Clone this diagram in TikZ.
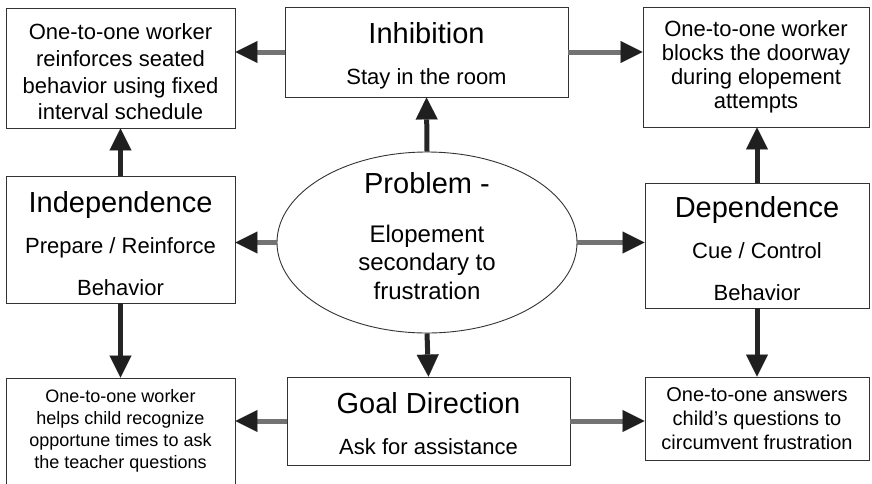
\documentclass[tikz,border=0pt]{standalone}
\usepackage{fontspec}
\setmainfont{Liberation Sans}
\usetikzlibrary{arrows.meta,shapes.geometric}

% type sizes used in the chart
\newcommand\ttlsize{\fontsize{29}{41.5}\selectfont}
\newcommand\subsize{\fontsize{22}{41.5}\selectfont}
% invisible strut that lowers the text block inside its box
\newcommand\topstrut[1]{\rule{0pt}{#1}}

\tikzset{
  box/.style={draw=black!80, line width=0.9pt, rectangle, inner sep=0pt, align=center},
  conn/.style={line width=5pt,
    -{Triangle[length=22pt,width=22pt,line width=0.1pt,color=black!88]}},
  hconn/.style={conn, draw=black!55},
  vconn/.style={conn, draw=black!85},
}

\begin{document}
\begin{tikzpicture}[x=1pt,y=-1pt]
\clip (0,0) rectangle (872,483);
\useasboundingbox (0,0) rectangle (872,483);

% central problem
\node[draw=black!80, line width=0.9pt, ellipse, inner sep=0pt,
      minimum width=300, minimum height=181] (prob) at (427,242.5) {};
\node[align=center, inner sep=0pt, font=\fontsize{24}{28.5}\selectfont] (probtext) at (427,236)
  {{\fontsize{29}{28.5}\selectfont Problem -}\\[20pt]Elopement\\secondary to\\frustration};

% the four strategy boxes
\node[box, minimum width=283, minimum height=90, font=\ttlsize] (inh) at (426.5,52)
  {\topstrut{29pt}Inhibition\\{\subsize Stay in the room}};
\node[box, minimum width=229, minimum height=127, font=\ttlsize] (ind) at (120.5,239.5)
  {\topstrut{29pt}Independence\\{\subsize Prepare / Reinforce}\\{\subsize Behavior}};
\node[box, minimum width=224, minimum height=125, font=\ttlsize] (dep) at (757,245.5)
  {\topstrut{27pt}Dependence\\{\subsize Cue / Control}\\{\subsize Behavior}};
\node[box, minimum width=283, minimum height=88, font=\ttlsize] (goal) at (428.5,421)
  {\topstrut{26pt}Goal Direction\\{\subsize Ask for assistance}};

% the four interventions
\node[box, minimum width=229, minimum height=120, font=\fontsize{22}{26.7}\selectfont] (tl) at (120.5,68)
  {\topstrut{24pt}One-to-one worker\\reinforces seated\\behavior using fixed\\interval schedule};
\node[box, minimum width=226, minimum height=120, font=\fontsize{22}{24}\selectfont] (tr) at (756,67)
  {One-to-one worker\\blocks the doorway\\during elopement\\attempts};
\node[box, minimum width=229, minimum height=106, font=\fontsize{18}{22}\selectfont] (bl) at (120.5,431)
  {One-to-one worker\\helps child recognize\\opportune times to ask\\the teacher questions};
\node[box, minimum width=224, minimum height=83, font=\fontsize{20}{24}\selectfont] (br) at (757,418.5)
  {One-to-one answers\\child’s questions to\\circumvent frustration};

% connectors
\draw[vconn] (prob.north) -- (inh.south);
\draw[vconn] (prob.south) -- (goal.north);
\draw[hconn] (prob.west) -- (prob.west -| ind.east);
\draw[hconn] (prob.east) -- (prob.east -| dep.west);

\draw[hconn] (inh.west) -- (inh.west -| tl.east);
\draw[hconn] (inh.east) -- (inh.east -| tr.west);
\draw[hconn] (goal.west) -- (goal.west -| bl.east);
\draw[hconn] (goal.east) -- (goal.east -| br.west);

\draw[vconn] (ind.north) -- (tl.south);
\draw[vconn] (ind.south) -- (bl.north);
\draw[vconn] (dep.north) -- (dep.north |- tr.south);
\draw[vconn] (dep.south) -- (dep.south |- br.north);
\end{tikzpicture}
\end{document}
